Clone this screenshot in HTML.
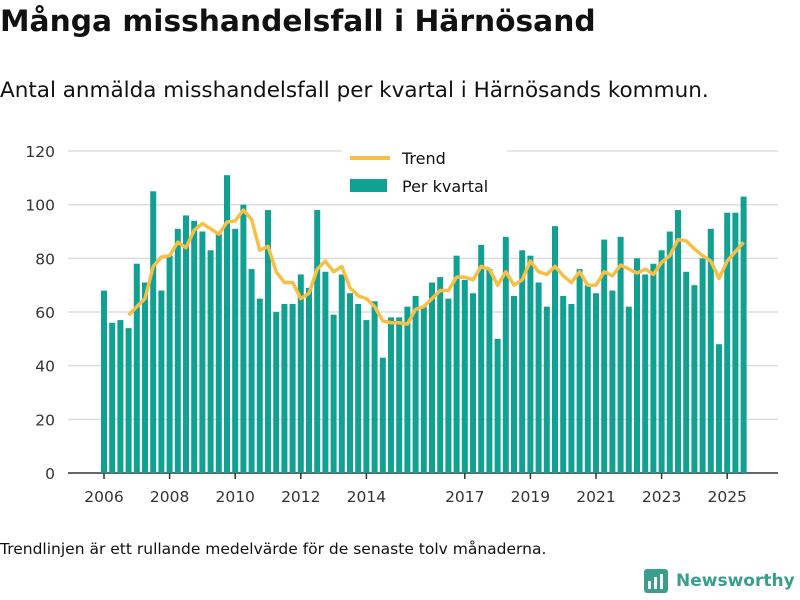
<!DOCTYPE html>
<html><head><meta charset="utf-8"><style>
body{margin:0;width:800px;height:600px;background:#fff;font-family:"DejaVu Sans","Liberation Sans",sans-serif;color:#111;position:relative;overflow:hidden}
#title{position:absolute;left:0;top:4px;font-size:29.7px;font-weight:bold;margin:0}
#sub{position:absolute;left:0;top:78px;font-size:21.5px}
#foot{position:absolute;left:0;top:540px;font-size:15.5px}
#logo{position:absolute;left:644px;top:569px;font-size:17px;font-weight:bold;color:#3a9e8c;display:flex;align-items:center;gap:8px}
</style></head><body>
<h1 id="title">Många misshandelsfall i Härnösand</h1>
<div id="sub">Antal anmälda misshandelsfall per kvartal i Härnösands kommun.</div>
<svg id="chart" width="800" height="600" style="position:absolute;left:0;top:0"></svg>
<div id="foot">Trendlinjen är ett rullande medelvärde för de senaste tolv månaderna.</div>
<div id="logo"><svg width="24" height="24"><rect x="0" y="0" width="24" height="24" rx="3" fill="#3a9e8c"/><rect x="4" y="12" width="3" height="8" fill="#fff"/><rect x="10" y="8" width="3" height="12" fill="#fff"/><rect x="16" y="5" width="3" height="15" fill="#fff"/></svg><span>Newsworthy</span></div>
<script>
const values=[68,56,57,54,78,71,105,68,81,91,96,94,90,83,89,111,91,100,76,65,98,60,63,63,74,69,98,75,59,74,67,63,57,64,43,58,58,62,66,62,71,73,65,81,72,67,85,76,50,88,66,83,81,71,62,92,66,63,76,70,67,87,68,88,62,80,74,78,83,90,98,75,70,80,91,48,97,97,103];
const trendStart=3;
const trend=[58.8,62,65,77,80.5,81,86,84,90.5,93,91,89,93.5,94,98,94.5,83,84.5,75,71,71,65,67,76,79,75,77,69,66,65,62,56.7,56,56,55.5,61,62,65,68,68,73,73,72,77,76,70,75,70,72,79,75,74,77,73.5,71,75,70,70,75,73.5,77.5,76,74.5,76,74,78.5,81,87,86.5,83.5,81,79,72.5,79,82.5,86];
const yTicks=[0,20,40,60,80,100,120];
const xTickYears=[2006,2008,2010,2012,2014,2017,2019,2021,2023,2025];
const firstYear=2006;
const NS="http://www.w3.org/2000/svg";
const svg=document.getElementById('chart');
const x=q=>104+q*8.2;
const y=v=>473-v*2.683;
const FF='DejaVu Sans, Liberation Sans, sans-serif';
function mk(t,a){const e=document.createElementNS(NS,t);for(const k in a)e.setAttribute(k,a[k]);svg.appendChild(e);return e;}
yTicks.forEach(v=>{
 const g=mk('line',{x1:68,x2:778,y1:y(v),y2:y(v),stroke:v===0?'#333':'#ddd','stroke-width':1.5});
 
 
 const t=mk('text',{x:55,y:y(v)+6,'text-anchor':'end','font-size':15.5,fill:'#333','font-family':FF});
 t.textContent=v;
 
 
});
values.forEach((v,i)=>{
 const r=mk('rect',{x:x(i)-3,y:y(v),width:6,height:v*2.683,fill:'#10a193'});
 
 
});
xTickYears.forEach(yr=>{
 const xx=x((yr-firstYear)*4);
 const l=mk('line',{x1:xx,x2:xx,y1:473,y2:479,stroke:'#333','stroke-width':1.5});
 
 
 const t=mk('text',{x:xx,y:502,'text-anchor':'middle','font-size':15.5,fill:'#333','font-family':FF});
 t.textContent=yr;
 
 
});
const p=mk('polyline',{points:trend.map((v,i)=>x(i+trendStart)+','+y(v)).join(' '),fill:'none',stroke:'#f7bf45','stroke-width':3.5,'stroke-linejoin':'round'});


const lb=mk('rect',{x:342,y:145,width:165,height:58,fill:'#fff'});


const ll=mk('line',{x1:350,x2:390,y1:158,y2:158,stroke:'#f7bf45','stroke-width':4});


const lr=mk('rect',{x:350,y:179,width:37,height:13,fill:'#10a193'});


[['Trend',164],['Per kvartal',192]].forEach(([s,yy])=>{
 const t=mk('text',{x:402,y:yy,'font-size':16,fill:'#111','font-family':FF});
 t.textContent=s;
 
 
});
</script>
</body></html>
